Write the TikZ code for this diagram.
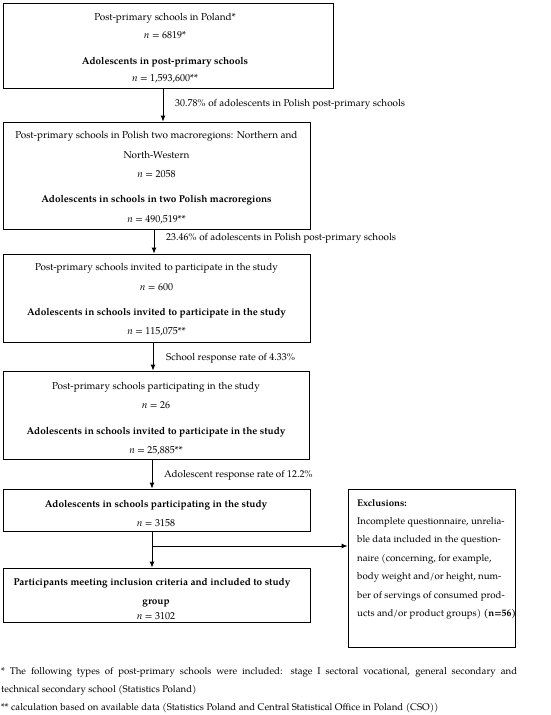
\documentclass[tikz,border=0pt]{standalone}
\usepackage{fontspec}
\setmainfont{texgyrepagella}[Extension=.otf, UprightFont=*-regular, BoldFont=*-bold, ItalicFont=*-italic, BoldItalicFont=*-bolditalic]
\usetikzlibrary{arrows.meta}
\begin{document}
\begin{tikzpicture}[x=1pt,y=-1pt,
  box/.style={draw, line width=0.9pt, inner sep=0pt},
  txt/.style={inner sep=0pt, font=\fontsize{10}{12}\selectfont},
  btxt/.style={txt, font=\fontsize{10}{12}\selectfont\bfseries},
  lbl/.style={inner sep=0pt, anchor=west, font=\fontsize{9.9}{12}\selectfont},
  foot/.style={inner sep=0pt, anchor=west, font=\fontsize{9.7}{12}\selectfont},
  arr/.style={line width=0.9pt, -{Latex[length=6pt,width=5pt]}}]
\useasboundingbox (0,0) rectangle (550,715);
% boxes
\node[box, minimum width=330pt, minimum height=85pt] (b1) at (168,45.5) {};
\node[box, minimum width=307pt, minimum height=107pt] (b2) at (156.5,175.5) {};
\node[box, minimum width=307pt, minimum height=88pt] (b3) at (156.5,298) {};
\node[box, minimum width=306pt, minimum height=88pt] (b4) at (156,415) {};
\node[box, minimum width=307pt, minimum height=42pt] (b5) at (156.5,510) {};
\node[box, minimum width=167pt, minimum height=158pt] (b6) at (431.5,568) {};
\node[box, minimum width=307pt, minimum height=54pt] (b7) at (156.5,595) {};
% box 1 text
\node[txt] (t11) at (165,18) {Post-primary schools in Poland*};
\node[txt] (t12) at (165,35) {\textit{n} = 6819*};
\node[btxt] (t13) at (165,62) {Adolescents in post-primary schools};
\node[txt] (t14) at (165,79) {\textit{n} = 1,593,600**};
% box 2 text
\node[txt] (t21) at (156.5,136) {Post-primary schools in Polish two macroregions: Northern and};
\node[txt] (t22) at (156.5,155) {North-Western};
\node[txt] (t23) at (156.5,174) {\textit{n} = 2058};
\node[btxt] (t24) at (156.5,200) {Adolescents in schools in two Polish macroregions};
\node[txt] (t25) at (156.5,220) {\textit{n} = 490,519**};
% box 3 text
\node[txt] (t31) at (156.5,268) {Post-primary schools invited to participate in the study};
\node[txt] (t32) at (156.5,287) {\textit{n} = 600};
\node[btxt] (t33) at (156.5,313) {Adolescents in schools invited to participate in the study};
\node[txt] (t34) at (156.5,332) {\textit{n} = 115,075**};
% box 4 text
\node[txt] (t41) at (156,387) {Post-primary schools participating in the study};
\node[txt] (t42) at (156,405) {\textit{n} = 26};
\node[btxt] (t43) at (156,432) {Adolescents in schools invited to participate in the study};
\node[txt] (t44) at (156,451) {\textit{n} = 25,885**};
% box 5 text
\node[btxt] (t51) at (156,505) {Adolescents in schools participating in the study};
\node[txt] (t52) at (156,523) {\textit{n} = 3158};
% box 7 text
\node[btxt] (t71) at (152,583) {Participants meeting inclusion criteria and included to study};
\node[btxt] (t72) at (156,603) {group};
\node[txt] (t73) at (156,616) {\textit{n} = 3102};
% box 6 text
\node[inner sep=0pt, anchor=north west, align=left, font=\fontsize{9.7}{18.4}\selectfont] (t61) at (357,499)
 {\textbf{Exclusions:}\\
 Incomplete questionnaire, unrelia-\\
 ble data included in the question-\\
 naire (concerning, for example,\\
 body weight and/or height, num-\\
 ber of servings of consumed prod-\\
 ucts and/or product groups) \textbf{(n=56)}};
% arrows
\coordinate (x1) at (163,0);
\coordinate (x2) at (154,0);
\coordinate (x3) at (153,0);
\coordinate (x4) at (152,0);
\draw[arr] (x1 |- b1.south) -- (x1 |- b2.north);
\draw[arr] (x2 |- b2.south) -- (x2 |- b3.north);
\draw[arr] (x3 |- b3.south) -- (x3 |- b4.north);
\draw[arr] (x4 |- b4.south) -- (x4 |- b5.north);
\draw[arr] (x4 |- b5.south) -- (x4 |- b7.north);
\coordinate (br) at (152,546);
\draw[arr] (br) -- (br -| b6.west);
% arrow labels
\node[lbl] (l1) at (175,104) {30.78\% of adolescents in Polish post-primary schools};
\node[lbl] (l2) at (166,238) {23.46\% of adolescents in Polish post-primary schools};
\node[lbl] (l3) at (166,358) {School response rate of 4.33\%};
\node[lbl] (l4) at (164,475) {Adolescent response rate of 12.2\%};
% footnotes
\node[foot] (f1) at (1,672) {\makebox[516pt][s]{* The following types of post-primary schools were included: stage I sectoral vocational, general secondary and}};
\node[foot] (f2) at (1,690) {technical secondary school (Statistics Poland)};
\node[foot] (f3) at (1,708) {** calculation based on available data (Statistics Poland and Central Statistical Office in Poland (CSO))};
\end{tikzpicture}
\end{document}
